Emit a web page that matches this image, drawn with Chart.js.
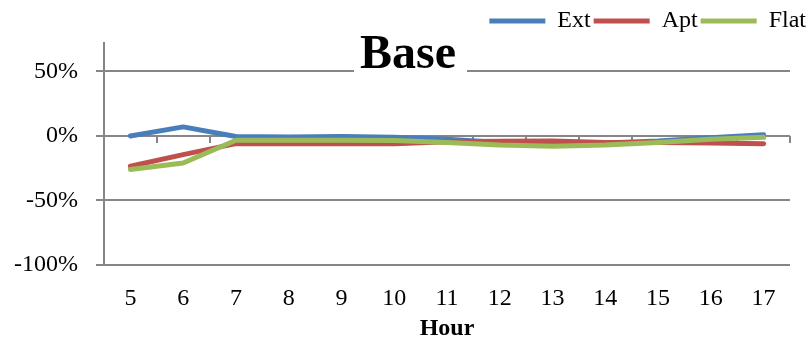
<!DOCTYPE html>
<html>
<head>
<meta charset="utf-8">
<script src="https://cdn.jsdelivr.net/npm/chart.js@4/dist/chart.umd.min.js"></script>
<style>
  html, body { margin: 0; padding: 0; background: #ffffff; }
  #wrap { width: 809px; height: 347px; }
</style>
</head>
<body>
<div id="wrap"><canvas id="c" width="809" height="347"></canvas></div>
<script>
const hours = ['5','6','7','8','9','10','11','12','13','14','15','16','17'];
const ext  = [0, 7, -0.5, -0.8, -0.5, -1, -2.5, -5, -6, -5.5, -4, -1.5, 1];
const apt  = [-23.5, -14.5, -6, -6, -6, -6, -4.5, -4.2, -4, -5, -5, -5.5, -6];
const flat = [-26, -21, -3.3, -3.3, -3.3, -3.5, -5, -7, -8, -7, -5, -2.5, -1];
const yTicks = [-100, -50, 0, 50];
const chartTitle = 'Base';
const xTitle = 'Hour';

const GRID = '#868686';
const FONT = '"Liberation Serif", "Times New Roman", serif';

const titlePlugin = {
  id: 'boxTitle',
  afterDraw(chart) {
    const ctx = chart.ctx;
    ctx.save();
    ctx.fillStyle = '#ffffff';
    ctx.fillRect(354, 30, 113, 50);
    ctx.fillStyle = '#000000';
    ctx.font = 'bold 48px ' + FONT;
    ctx.textAlign = 'center';
    ctx.textBaseline = 'alphabetic';
    ctx.fillText(chartTitle, 408, 68);
    ctx.restore();
  }
};

const zeroAxisPlugin = {
  id: 'zeroAxisTicks',
  beforeDatasetsDraw(chart) {
    const x = chart.scales.x, y = chart.scales.y;
    const ctx = chart.ctx;
    const y0 = y.getPixelForValue(0);
    const n = hours.length;
    const half = (x.getPixelForValue(1) - x.getPixelForValue(0)) / 2;
    ctx.save();
    ctx.strokeStyle = GRID;
    ctx.lineWidth = 2;
    ctx.beginPath();
    for (let i = 0; i <= n; i++) {
      const px = Math.round(x.getPixelForValue(i) - half);
      ctx.moveTo(px, y0);
      ctx.lineTo(px, y0 + 7);
    }
    ctx.stroke();
    ctx.restore();
  }
};

new Chart(document.getElementById('c'), {
  type: 'line',
  data: {
    labels: hours,
    datasets: [
      { label: 'Flat', data: flat, borderColor: '#9BBB59', backgroundColor: '#9BBB59' },
      { label: 'Apt', data: apt, borderColor: '#C0504D', backgroundColor: '#C0504D' },
      { label: 'Ext', data: ext, borderColor: '#4A7EBB', backgroundColor: '#4A7EBB' }
    ].map(d => Object.assign(d, {
      borderWidth: 5, pointRadius: 0, tension: 0, fill: false,
      borderCapStyle: 'round', borderJoinStyle: 'round'
    }))
  },
  options: {
    responsive: false,
    animation: false,
    devicePixelRatio: 1,
    layout: { padding: { left: 10, right: 0, top: 6, bottom: 0 } },
    plugins: {
      legend: {
        position: 'top',
        align: 'end',
        reverse: true,
        labels: {
          usePointStyle: true,
          pointStyle: 'line',
          pointStyleWidth: 56,
          padding: 3,
          color: '#000000',
          font: { family: FONT, size: 24 }
        }
      },
      tooltip: { enabled: false },
      title: { display: false }
    },
    scales: {
      x: {
        type: 'category',
        offset: true,
        grid: { display: false },
        border: { display: false },
        ticks: { color: '#000000', font: { family: FONT, size: 24 }, padding: 11, maxRotation: 0, autoSkip: false },
        title: { display: true, text: xTitle, color: '#000000', font: { family: FONT, size: 24, weight: 'bold' }, padding: { top: 0, bottom: 4 } },
        afterFit(s) { s.height = 82; }
      },
      y: {
        type: 'linear',
        position: 'left',
        min: -100,
        max: 72,
        grid: { color: GRID, lineWidth: 2, tickLength: 8, drawTicks: true },
        border: { display: true, color: GRID, width: 2 },
        ticks: {
          stepSize: 50,
          color: '#000000',
          font: { family: FONT, size: 24 },
          padding: 18,
          callback: v => v + '%'
        },
        afterBuildTicks(s) { s.ticks = yTicks.map(v => ({ value: v })); },
        afterFit(s) { s.width = 94; }
      },
      y2: {
        type: 'linear',
        position: 'right',
        display: true,
        grid: { display: false },
        border: { display: false },
        ticks: { display: false },
        afterFit(s) { s.width = 19; }
      }
    }
  },
  plugins: [zeroAxisPlugin, titlePlugin]
});
</script>
</body>
</html>
